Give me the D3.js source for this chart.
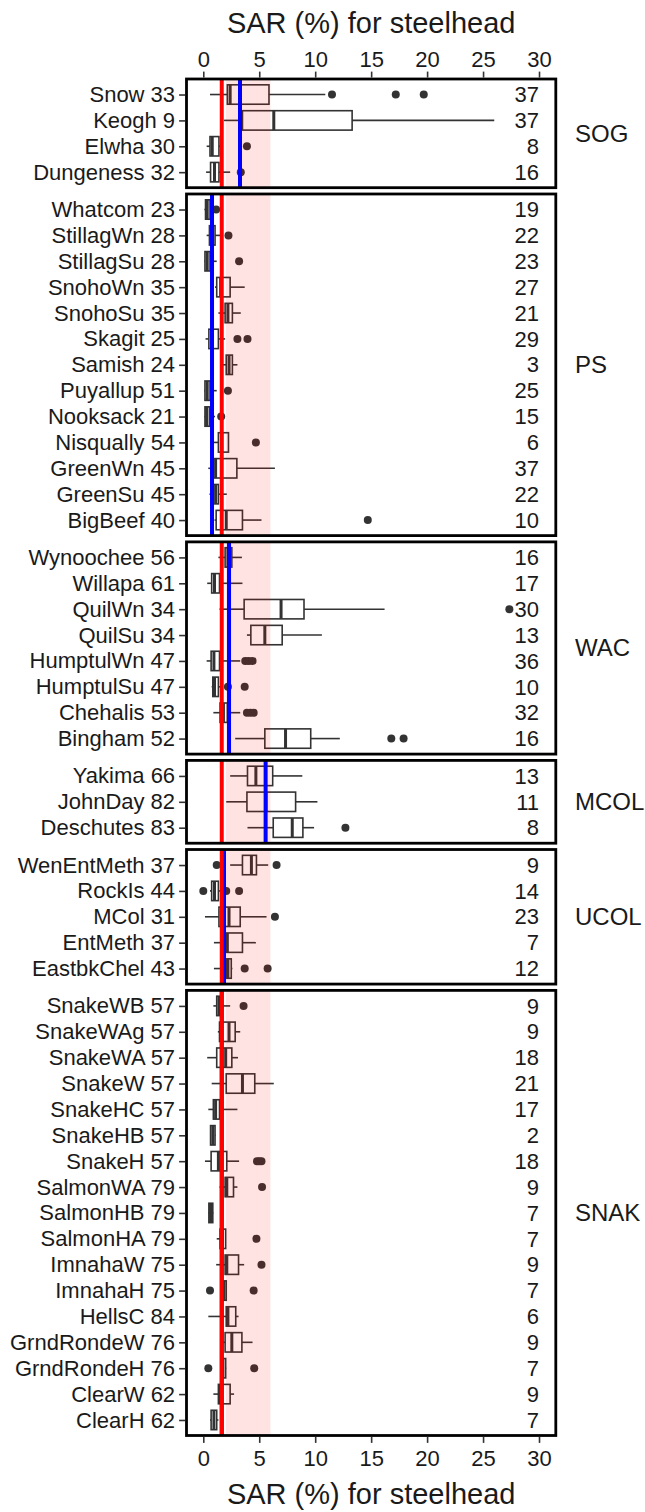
<!DOCTYPE html>
<html>
<head>
<meta charset="utf-8">
<script src="https://cdn.jsdelivr.net/npm/d3@7"></script>
<style>
  body { margin: 0; background: #fff; }
  svg { display: block; font-family: "Liberation Sans", Arial, sans-serif; }
</style>
</head>
<body>
<div id="chart"></div>
<script>
// SAR (%) for steelhead, boxplots by population, faceted by region

const xTicks = [0, 5, 10, 15, 20, 25, 30];
const groups = ["SOG", "PS", "WAC", "MCOL", "UCOL", "SNAK"];
const groupMeans = [3.28, 0.78, 2.3, 5.57, 1.85, 1.65]; // blue lines
const targetLine = 1.65; // red line
const targetBand = [2, 6]; // pink band

// label, n years, [low whisker, q1, median, q3, high whisker], outliers
const rowsSOG = [
  ["Snow 33", 37, [0.6, 2.15, 2.4, 5.87, 10.9], [11.5, 17.2, 19.7]],
  ["Keogh 9", 37, [1.85, 3.5, 6.3, 13.3, 26.0], []],
  ["Elwha 30", 8, [0.3, 0.6, 0.8, 1.4, 1.6], [3.9]],
  ["Dungeness 32", 16, [0.25, 0.65, 1.0, 1.4, 2.4], [3.35]]
];
const rowsPS = [
  ["Whatcom 23", 19, [0.1, 0.2, 0.35, 0.6, 0.9], [1.15]],
  ["StillagWn 28", 22, [0.3, 0.55, 0.8, 1.05, 1.5], [2.25]],
  ["StillagSu 28", 23, [0.1, 0.15, 0.35, 0.6, 1.2], [3.2]],
  ["SnohoWn 35", 27, [1.05, 1.2, 1.55, 2.4, 3.7], []],
  ["SnohoSu 35", 21, [1.35, 1.95, 2.2, 2.6, 3.35], []],
  ["Skagit 25", 29, [0.2, 0.5, 0.8, 1.35, 1.95], [3.05, 3.95]],
  ["Samish 24", 3, [1.5, 2.05, 2.3, 2.6, 3.05], []],
  ["Puyallup 51", 25, [0.1, 0.15, 0.35, 0.6, 1.2], [2.2]],
  ["Nooksack 21", 15, [0.1, 0.15, 0.3, 0.55, 1.05], [1.6]],
  ["Nisqually 54", 6, [0.6, 1.35, 1.65, 2.25, 2.25], [4.7]],
  ["GreenWn 45", 37, [0.45, 0.9, 1.1, 3.0, 6.4], []],
  ["GreenSu 45", 22, [0.55, 0.9, 1.1, 1.35, 2.1], []],
  ["BigBeef 40", 10, [1.0, 1.15, 2.05, 3.5, 5.2], [14.7]]
];
const rowsWAC = [
  ["Wynoochee 56", 16, [1.35, 1.95, 2.2, 2.55, 3.45], []],
  ["Willapa 61", 17, [0.35, 0.75, 1.0, 1.45, 3.5], []],
  ["QuilWn 34", 30, [1.45, 3.65, 6.95, 9.0, 16.2], [27.35]],
  ["QuilSu 34", 13, [3.9, 4.25, 5.5, 7.05, 10.6], []],
  ["HumptulWn 47", 36, [0.3, 0.7, 0.95, 1.45, 3.3], [3.75, 4.05, 4.4]],
  ["HumptulSu 47", 10, [0.75, 0.85, 1.0, 1.35, 1.6], [2.2, 3.7]],
  ["Chehalis 53", 32, [0.9, 1.5, 1.8, 2.15, 3.3], [3.9, 4.2, 4.5]],
  ["Bingham 52", 16, [2.85, 5.5, 7.35, 9.6, 12.2], [16.8, 17.9]]
];
const rowsMCOL = [
  ["Yakima 66", 13, [2.4, 3.95, 4.7, 6.2, 8.85], []],
  ["JohnDay 82", 11, [2.05, 3.9, 5.6, 8.25, 10.2], []],
  ["Deschutes 83", 8, [3.95, 6.25, 7.95, 8.9, 9.9], [12.7]]
];
const rowsUCOL = [
  ["WenEntMeth 37", 9, [2.4, 3.5, 4.3, 4.75, 5.8], [1.2, 6.55]],
  ["RockIs 44", 14, [0.6, 0.75, 1.0, 1.35, 1.6], [0.0, 2.05, 3.2]],
  ["MCol 31", 23, [0.15, 1.4, 2.3, 3.3, 5.65], [6.4]],
  ["EntMeth 37", 7, [0.95, 2.1, 2.15, 3.5, 4.7], []],
  ["EastbkChel 43", 12, [0.95, 2.05, 2.2, 2.5, 2.6], [3.7, 5.75]]
];
const rowsSNAK = [
  ["SnakeWB 57", 9, [0.9, 1.2, 1.4, 1.65, 2.4], [3.6]],
  ["SnakeWAg 57", 9, [1.3, 1.45, 2.3, 2.85, 3.3], []],
  ["SnakeWA 57", 18, [0.35, 1.2, 2.0, 2.55, 3.1], []],
  ["SnakeW 57", 21, [0.75, 2.05, 3.5, 4.6, 6.3], []],
  ["SnakeHC 57", 17, [0.45, 0.9, 1.1, 1.45, 3.05], []],
  ["SnakeHB 57", 2, [0.6, 0.65, 0.85, 1.05, 1.1], []],
  ["SnakeH 57", 18, [0.15, 0.7, 1.35, 2.1, 3.2], [4.8, 5.0, 5.2]],
  ["SalmonWA 79", 9, [1.45, 1.95, 2.1, 2.7, 3.05], [5.25]],
  ["SalmonHB 79", 7, [0.45, 0.5, 0.65, 0.85, 0.9], []],
  ["SalmonHA 79", 7, [1.2, 1.5, 1.7, 2.0, 2.0], [4.75]],
  ["ImnahaW 75", 9, [1.15, 1.95, 2.1, 3.15, 3.65], [5.2]],
  ["ImnahaH 75", 7, [1.65, 1.7, 1.85, 2.05, 2.1], [0.6, 4.5]],
  ["HellsC 84", 6, [0.45, 2.05, 2.2, 2.9, 3.15], []],
  ["GrndRondeW 76", 9, [1.5, 1.95, 2.55, 3.45, 4.4], []],
  ["GrndRondeH 76", 7, [1.5, 1.6, 1.75, 2.0, 2.05], [0.45, 4.55]],
  ["ClearW 62", 9, [0.9, 1.35, 1.5, 2.4, 2.75], []],
  ["ClearH 62", 7, [0.6, 0.7, 0.95, 1.2, 1.35], []]
];
const groupRows = [rowsSOG, rowsPS, rowsWAC, rowsMCOL, rowsUCOL, rowsSNAK];

const width = 645, height = 1512;
const plotTop = 79, plotBottom = 1435.5, panelGap = 6.3;
const labelSize = 22, tickSize = 22, stripSize = 24, titleSize = 29;
const boxColor = "#333333";
const lineW = 1.6;

const svg = d3.select("#chart").append("svg")
  .attr("width", width).attr("height", height);

const x = d3.scaleLinear().domain([-1.5, 31.5]).range([186.5, 555.8]);

// panel heights follow number of rows (like facet space = "free")
const totalUnits = d3.sum(groupRows, r => r.length + 0.2);
const unit = (plotBottom - plotTop - panelGap * (groups.length - 1)) / totalUnits;

let yCursor = plotTop;
groups.forEach((grp, gi) => {
  const rows = groupRows[gi];
  const h = (rows.length + 0.2) * unit;
  const top = yCursor;
  const y = d3.scalePoint().domain(rows.map(r => r[0])).range([top, top + h]).padding(0.6);
  const bh = y.step() * 0.75;
  yCursor += h + panelGap;

  const g = svg.append("g").attr("class", "panel-" + grp);

  // whiskers
  g.selectAll(".whisker").data(rows).enter().append("g")
    .each(function (d) {
      const s = d[2], cy = y(d[0]);
      d3.select(this).append("line")
        .attr("x1", x(s[0])).attr("x2", x(s[1]))
        .attr("y1", cy).attr("y2", cy)
        .attr("stroke", boxColor).attr("stroke-width", lineW);
      d3.select(this).append("line")
        .attr("x1", x(s[3])).attr("x2", x(s[4]))
        .attr("y1", cy).attr("y2", cy)
        .attr("stroke", boxColor).attr("stroke-width", lineW);
    });

  // boxes
  g.selectAll(".box").data(rows).enter().append("rect")
    .attr("x", d => x(d[2][1]))
    .attr("y", d => y(d[0]) - bh / 2)
    .attr("width", d => Math.max(x(d[2][3]) - x(d[2][1]), 0.5))
    .attr("height", bh)
    .attr("fill", "none")
    .attr("stroke", boxColor).attr("stroke-width", lineW);

  // medians
  g.selectAll(".median").data(rows).enter().append("line")
    .attr("x1", d => x(d[2][2])).attr("x2", d => x(d[2][2]))
    .attr("y1", d => y(d[0]) - bh / 2).attr("y2", d => y(d[0]) + bh / 2)
    .attr("stroke", boxColor).attr("stroke-width", 3);

  // outliers
  const outs = [];
  rows.forEach(r => r[3].forEach(v => outs.push({ name: r[0], v: v })));
  g.selectAll(".outlier").data(outs).enter().append("circle")
    .attr("cx", d => x(d.v)).attr("cy", d => y(d.name))
    .attr("r", 4).attr("fill", boxColor);

  // target band (translucent, on top of the boxes)
  g.append("rect")
    .attr("x", x(targetBand[0])).attr("y", top)
    .attr("width", x(targetBand[1]) - x(targetBand[0])).attr("height", h)
    .attr("fill", "red").attr("fill-opacity", 0.11);

  // group mean (blue) then target (red)
  g.append("line")
    .attr("x1", x(groupMeans[gi])).attr("x2", x(groupMeans[gi]))
    .attr("y1", top).attr("y2", top + h)
    .attr("stroke", "#0000ff").attr("stroke-width", 4);
  g.append("line")
    .attr("x1", x(targetLine)).attr("x2", x(targetLine))
    .attr("y1", top).attr("y2", top + h)
    .attr("stroke", "#ff0000").attr("stroke-width", 4);

  // counts at right
  g.selectAll(".count").data(rows).enter().append("text")
    .attr("x", x(30)).attr("y", d => y(d[0]))
    .attr("dy", "0.35em")
    .attr("text-anchor", "end")
    .attr("font-size", labelSize).attr("fill", "#1a1a1a")
    .text(d => d[1]);

  // panel border
  g.append("rect")
    .attr("x", x.range()[0]).attr("y", top)
    .attr("width", x.range()[1] - x.range()[0]).attr("height", h)
    .attr("fill", "none").attr("stroke", "#000").attr("stroke-width", 2.8);

  // row labels
  const yAxis = g.append("g")
    .attr("transform", `translate(${x.range()[0] - 1.4},0)`)
    .call(d3.axisLeft(y).tickSize(6).tickPadding(4));
  yAxis.select(".domain").remove();
  yAxis.selectAll(".tick line").attr("stroke", boxColor).attr("stroke-width", lineW);
  yAxis.selectAll(".tick text").attr("font-size", labelSize).attr("fill", "#1a1a1a")
    .attr("font-family", null);

  // strip label
  g.append("text")
    .attr("x", 575).attr("y", top + h / 2).attr("dy", "0.35em")
    .attr("font-size", stripSize).attr("fill", "#1a1a1a")
    .text(grp);
});

// top and bottom x axes
const topAxis = svg.append("g")
  .attr("transform", `translate(0,${plotTop - 1.4})`)
  .call(d3.axisTop(x).tickValues(xTicks).tickSize(6).tickPadding(5));
const bottomAxis = svg.append("g")
  .attr("transform", `translate(0,${plotBottom + 1.4})`)
  .call(d3.axisBottom(x).tickValues(xTicks).tickSize(6).tickPadding(7));
[topAxis, bottomAxis].forEach(a => {
  a.select(".domain").remove();
  a.selectAll(".tick line").attr("stroke", boxColor).attr("stroke-width", lineW);
  a.selectAll(".tick text").attr("font-size", tickSize).attr("fill", "#1a1a1a")
    .attr("font-family", null);
});

// axis titles
const midX = (x.range()[0] + x.range()[1]) / 2;
svg.append("text").attr("x", midX).attr("y", 33)
  .attr("text-anchor", "middle").attr("font-size", titleSize).attr("fill", "#1a1a1a")
  .text("SAR (%) for steelhead");
svg.append("text").attr("x", midX).attr("y", 1504)
  .attr("text-anchor", "middle").attr("font-size", titleSize).attr("fill", "#1a1a1a")
  .text("SAR (%) for steelhead");
</script>
</body>
</html>
